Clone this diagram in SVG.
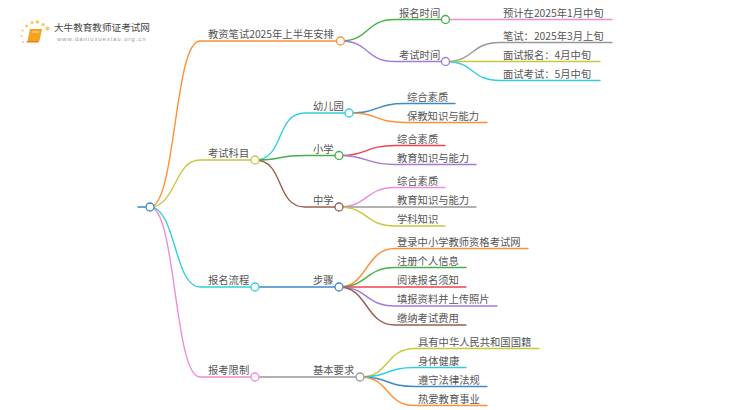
<svg xmlns="http://www.w3.org/2000/svg" width="750" height="410" viewBox="0 0 750 410">
<style>
text{font-family:"Noto Sans CJK SC","Noto Sans",sans-serif;font-size:10.3px;fill:#555}
.c{fill:none;stroke-width:1.4;stroke-linecap:round}
.n{fill:#fff;stroke-width:1.3}
.or{stroke:#ff9038}.ye{stroke:#c8c83c}.cy{stroke:#30cfe0}.pk{stroke:#f08bd8}.gn{stroke:#45b045}.pu{stroke:#a678d8}.bl{stroke:#3d8ac9}.rd{stroke:#ee4450}.br{stroke:#97604f}.gy{stroke:#999}
</style>
<g id="logo">
<g fill="#fbc65a"><circle cx="47.500" cy="28.500" r="2"/><circle cx="43" cy="24.500" r="1.600"/><circle cx="37.500" cy="22" r="1.800"/><circle cx="32" cy="22.500" r="1.500"/><circle cx="26.500" cy="26" r="1.400"/><circle cx="22.500" cy="30.500" r="1.100"/><circle cx="21.500" cy="36" r="1"/><circle cx="23" cy="42" r="0.900"/></g>
<path d="M30 29h12l-2.500 12h-12z" fill="#f5a21c"/><path d="M27 41h12l-.5 1.500h-12z" fill="#e97f10"/><path d="M32 32h7" stroke="#ffe3a8" stroke-width="1"/>
<text x="54" y="30.500" style="font-size:9.600px;fill:#444">大牛教育教师证考试网</text>
<text x="57" y="41.200" style="font-family:'Liberation Sans',sans-serif;font-size:6px;letter-spacing:0.930px;fill:#999">www.daniuxuexiao.org.cn</text>
</g>
<g id="connectors">
<path class="c bl" d="M138 207H150"/>
<path class="c or" d="M150 207C176 207 174 41 200 41H340.500"/>
<path class="c ye" d="M150 207C176 207 174 160 200 160H255"/>
<path class="c cy" d="M150 207C176 207 174 287 200 287H255"/>
<path class="c pk" d="M150 207C176 207 174 377 200 377H255"/>
<path class="c gn" d="M340.500 41C370 41 365 19.500 395 19.500H445.500"/>
<path class="c pu" d="M340.500 41C370 41 365 61.500 395 61.500H445.500"/>
<path class="c pk" d="M445.500 19.500H612"/>
<path class="c gy" d="M445.500 61.500C475 61.500 470 42.500 500 42.500H612"/>
<path class="c ye" d="M445.500 61.500H600"/>
<path class="c cy" d="M445.500 61.500C475 61.500 470 80.500 500 80.500H600"/>
<path class="c cy" d="M255 160C285 160 275 113 305 113H349"/>
<path class="c gn" d="M255 160C285 160 275 155.500 305 155.500H339"/>
<path class="c br" d="M255 160C285 160 275 207 305 207H339"/>
<path class="c bl" d="M349 113C380 113 375 103.500 405 103.500H455"/>
<path class="c or" d="M349 113C380 113 375 122.500 405 122.500H487"/>
<path class="c rd" d="M339 155.500C368 155.500 365 145.500 395 145.500H445"/>
<path class="c pu" d="M339 155.500C368 155.500 365 164.500 395 164.500H476"/>
<path class="c pk" d="M339 207C368 207 365 187.500 395 187.500H445"/>
<path class="c gy" d="M339 207H476"/>
<path class="c ye" d="M339 207C368 207 365 226 395 226H445"/>
<path class="c bl" d="M255 287H339"/>
<path class="c or" d="M339 287C368 287 365 248.500 395 248.500H528"/>
<path class="c gn" d="M339 287C368 287 365 267.500 395 267.500H466"/>
<path class="c rd" d="M339 287H466"/>
<path class="c pu" d="M339 287C368 287 365 306 395 306H497"/>
<path class="c br" d="M339 287C368 287 365 325 395 325H466"/>
<path class="c gy" d="M255 377H360"/>
<path class="c ye" d="M360 377C390 377 385 348.500 415 348.500H539"/>
<path class="c cy" d="M360 377C390 377 385 367.500 415 367.500H466"/>
<path class="c bl" d="M360 377C390 377 385 386.500 415 386.500H487"/>
<path class="c or" d="M360 377C390 377 385 405.500 415 405.500H487"/>
</g>
<g id="root"><circle class="n bl" cx="150" cy="207" r="4"/></g>
<g id="n1"><circle class="n or" cx="340.500" cy="41" r="4"/><text x="208" y="37.500">教资笔试2025年上半年安排</text></g>
<g id="n2"><circle class="n ye" cx="255" cy="160" r="4"/><text x="208" y="157">考试科目</text></g>
<g id="n3"><circle class="n cy" cx="255" cy="287" r="4"/><text x="208" y="284">报名流程</text></g>
<g id="n4"><circle class="n pk" cx="255" cy="377" r="4"/><text x="208" y="374">报考限制</text></g>
<g id="n11"><circle class="n gn" cx="445.500" cy="19.500" r="4"/><text x="399" y="16.500">报名时间</text></g>
<g id="n12"><circle class="n pu" cx="445.500" cy="61.500" r="4"/><text x="399" y="58.500">考试时间</text></g>
<g id="n111"><text x="503" y="16.500">预计在2025年1月中旬</text></g>
<g id="n121"><text x="503" y="39.500">笔试：2025年3月上旬</text></g>
<g id="n122"><text x="503" y="58.500">面试报名：4月中旬</text></g>
<g id="n123"><text x="503" y="77.500">面试考试：5月中旬</text></g>
<g id="n21"><circle class="n cy" cx="349" cy="113" r="4"/><text x="313" y="110">幼儿园</text></g>
<g id="n22"><circle class="n gn" cx="339" cy="155.500" r="4"/><text x="313" y="152.500">小学</text></g>
<g id="n23"><circle class="n br" cx="339" cy="207" r="4"/><text x="313" y="204">中学</text></g>
<g id="n211"><text x="407" y="100.500">综合素质</text></g>
<g id="n212"><text x="407" y="119.500">保教知识与能力</text></g>
<g id="n221"><text x="397" y="142.500">综合素质</text></g>
<g id="n222"><text x="397" y="161.500">教育知识与能力</text></g>
<g id="n231"><text x="397" y="184.500">综合素质</text></g>
<g id="n232"><text x="397" y="204">教育知识与能力</text></g>
<g id="n233"><text x="397" y="223">学科知识</text></g>
<g id="n31"><circle class="n bl" cx="339" cy="287" r="4"/><text x="313" y="284">步骤</text></g>
<g id="n311"><text x="397" y="245.500">登录中小学教师资格考试网</text></g>
<g id="n312"><text x="397" y="264.500">注册个人信息</text></g>
<g id="n313"><text x="397" y="284">阅读报名须知</text></g>
<g id="n314"><text x="397" y="303">填报资料并上传照片</text></g>
<g id="n315"><text x="397" y="322">缴纳考试费用</text></g>
<g id="n41"><circle class="n gy" cx="360" cy="377" r="4"/><text x="313" y="374">基本要求</text></g>
<g id="n411"><text x="418" y="345.500">具有中华人民共和国国籍</text></g>
<g id="n412"><text x="418" y="364.500">身体健康</text></g>
<g id="n413"><text x="418" y="383.500">遵守法律法规</text></g>
<g id="n414"><text x="418" y="402.500">热爱教育事业</text></g>
</svg>
